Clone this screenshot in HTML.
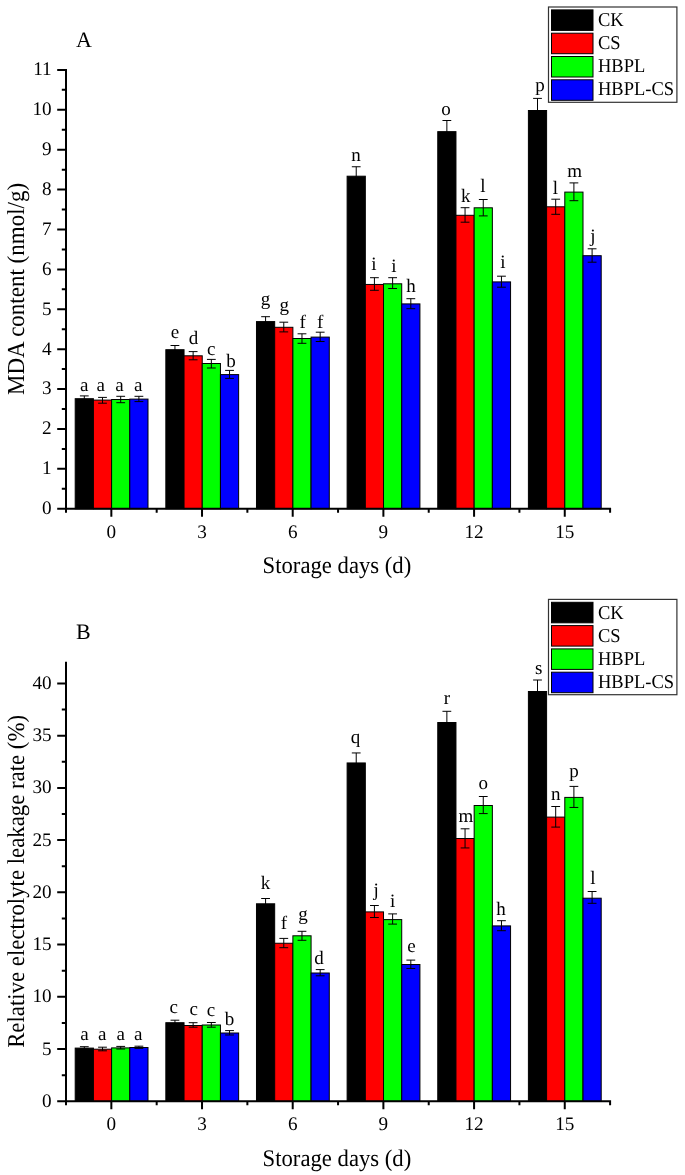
<!DOCTYPE html>
<html><head><meta charset="utf-8"><style>
html,body{margin:0;padding:0;background:#fff;}
svg{display:block;will-change:transform;}
text{font-family:"Liberation Serif", serif;fill:#000;text-rendering:geometricPrecision;}
</style></head><body>
<svg width="685" height="1175" viewBox="0 0 685 1175">
<rect width="685" height="1175" fill="#fff"/>
<rect x="75.20" y="398.70" width="18.20" height="110.05" fill="#000000" stroke="#000" stroke-width="1"/>
<rect x="93.40" y="400.10" width="18.20" height="108.65" fill="#ff0000" stroke="#000" stroke-width="1"/>
<rect x="111.60" y="399.50" width="18.20" height="109.25" fill="#00ff00" stroke="#000" stroke-width="1"/>
<rect x="129.80" y="399.10" width="18.20" height="109.65" fill="#0000ff" stroke="#000" stroke-width="1"/>
<rect x="165.84" y="349.70" width="18.20" height="159.05" fill="#000000" stroke="#000" stroke-width="1"/>
<rect x="184.04" y="355.80" width="18.20" height="152.95" fill="#ff0000" stroke="#000" stroke-width="1"/>
<rect x="202.24" y="363.50" width="18.20" height="145.25" fill="#00ff00" stroke="#000" stroke-width="1"/>
<rect x="220.44" y="374.60" width="18.20" height="134.15" fill="#0000ff" stroke="#000" stroke-width="1"/>
<rect x="256.48" y="321.60" width="18.20" height="187.15" fill="#000000" stroke="#000" stroke-width="1"/>
<rect x="274.68" y="327.30" width="18.20" height="181.45" fill="#ff0000" stroke="#000" stroke-width="1"/>
<rect x="292.88" y="338.50" width="18.20" height="170.25" fill="#00ff00" stroke="#000" stroke-width="1"/>
<rect x="311.08" y="337.10" width="18.20" height="171.65" fill="#0000ff" stroke="#000" stroke-width="1"/>
<rect x="347.12" y="176.20" width="18.20" height="332.55" fill="#000000" stroke="#000" stroke-width="1"/>
<rect x="365.32" y="284.45" width="18.20" height="224.30" fill="#ff0000" stroke="#000" stroke-width="1"/>
<rect x="383.52" y="283.80" width="18.20" height="224.95" fill="#00ff00" stroke="#000" stroke-width="1"/>
<rect x="401.72" y="303.90" width="18.20" height="204.85" fill="#0000ff" stroke="#000" stroke-width="1"/>
<rect x="437.76" y="131.65" width="18.20" height="377.10" fill="#000000" stroke="#000" stroke-width="1"/>
<rect x="455.96" y="215.30" width="18.20" height="293.45" fill="#ff0000" stroke="#000" stroke-width="1"/>
<rect x="474.16" y="207.80" width="18.20" height="300.95" fill="#00ff00" stroke="#000" stroke-width="1"/>
<rect x="492.36" y="281.90" width="18.20" height="226.85" fill="#0000ff" stroke="#000" stroke-width="1"/>
<rect x="528.40" y="110.50" width="18.20" height="398.25" fill="#000000" stroke="#000" stroke-width="1"/>
<rect x="546.60" y="206.80" width="18.20" height="301.95" fill="#ff0000" stroke="#000" stroke-width="1"/>
<rect x="564.80" y="192.10" width="18.20" height="316.65" fill="#00ff00" stroke="#000" stroke-width="1"/>
<rect x="583.00" y="255.70" width="18.20" height="253.05" fill="#0000ff" stroke="#000" stroke-width="1"/>
<path d="M84.30 395.90V401.10M79.90 395.90H88.70M79.90 401.10H88.70" stroke="#000" stroke-width="1" fill="none"/>
<text x="84.15" y="390.50" text-anchor="middle" font-size="19">a</text>
<path d="M102.50 397.40V403.20M98.10 397.40H106.90M98.10 403.20H106.90" stroke="#000" stroke-width="1" fill="none"/>
<text x="100.65" y="390.50" text-anchor="middle" font-size="19">a</text>
<path d="M120.70 396.30V402.70M116.30 396.30H125.10M116.30 402.70H125.10" stroke="#000" stroke-width="1" fill="none"/>
<text x="119.35" y="390.50" text-anchor="middle" font-size="19">a</text>
<path d="M138.90 396.30V401.60M134.50 396.30H143.30M134.50 401.60H143.30" stroke="#000" stroke-width="1" fill="none"/>
<text x="138.25" y="390.50" text-anchor="middle" font-size="19">a</text>
<path d="M174.94 345.50V353.50M170.54 345.50H179.34M170.54 353.50H179.34" stroke="#000" stroke-width="1" fill="none"/>
<text x="175.04" y="338.40" text-anchor="middle" font-size="19">e</text>
<path d="M193.14 351.60V359.80M188.74 351.60H197.54M188.74 359.80H197.54" stroke="#000" stroke-width="1" fill="none"/>
<text x="193.52" y="343.80" text-anchor="middle" font-size="19">d</text>
<path d="M211.34 359.40V368.00M206.94 359.40H215.74M206.94 368.00H215.74" stroke="#000" stroke-width="1" fill="none"/>
<text x="211.24" y="354.50" text-anchor="middle" font-size="19">c</text>
<path d="M229.54 370.40V378.40M225.14 370.40H233.94M225.14 378.40H233.94" stroke="#000" stroke-width="1" fill="none"/>
<text x="231.08" y="366.60" text-anchor="middle" font-size="19">b</text>
<path d="M265.58 316.70V326.10M261.18 316.70H269.98M261.18 326.10H269.98" stroke="#000" stroke-width="1" fill="none"/>
<text x="265.51" y="305.20" text-anchor="middle" font-size="19">g</text>
<path d="M283.78 322.20V331.90M279.38 322.20H288.18M279.38 331.90H288.18" stroke="#000" stroke-width="1" fill="none"/>
<text x="284.31" y="310.90" text-anchor="middle" font-size="19">g</text>
<path d="M301.98 333.80V343.30M297.58 333.80H306.38M297.58 343.30H306.38" stroke="#000" stroke-width="1" fill="none"/>
<text x="302.64" y="327.90" text-anchor="middle" font-size="19">f</text>
<path d="M320.18 332.20V341.50M315.78 332.20H324.58M315.78 341.50H324.58" stroke="#000" stroke-width="1" fill="none"/>
<text x="320.04" y="327.80" text-anchor="middle" font-size="19">f</text>
<path d="M356.22 166.75V185.25M351.82 166.75H360.62M351.82 185.25H360.62" stroke="#000" stroke-width="1" fill="none"/>
<text x="356.00" y="160.80" text-anchor="middle" font-size="19">n</text>
<path d="M374.42 277.70V290.30M370.02 277.70H378.82M370.02 290.30H378.82" stroke="#000" stroke-width="1" fill="none"/>
<text x="373.98" y="269.80" text-anchor="middle" font-size="19">i</text>
<path d="M392.62 277.70V288.50M388.22 277.70H397.02M388.22 288.50H397.02" stroke="#000" stroke-width="1" fill="none"/>
<text x="393.93" y="271.70" text-anchor="middle" font-size="19">i</text>
<path d="M410.82 298.70V308.70M406.42 298.70H415.22M406.42 308.70H415.22" stroke="#000" stroke-width="1" fill="none"/>
<text x="410.90" y="291.50" text-anchor="middle" font-size="19">h</text>
<path d="M446.86 120.50V142.40M442.46 120.50H451.26M442.46 142.40H451.26" stroke="#000" stroke-width="1" fill="none"/>
<text x="446.00" y="115.30" text-anchor="middle" font-size="19">o</text>
<path d="M465.06 207.70V222.20M460.66 207.70H469.46M460.66 222.20H469.46" stroke="#000" stroke-width="1" fill="none"/>
<text x="465.81" y="202.30" text-anchor="middle" font-size="19">k</text>
<path d="M483.26 199.50V215.90M478.86 199.50H487.66M478.86 215.90H487.66" stroke="#000" stroke-width="1" fill="none"/>
<text x="482.90" y="191.80" text-anchor="middle" font-size="19">l</text>
<path d="M501.46 276.20V287.20M497.06 276.20H505.86M497.06 287.20H505.86" stroke="#000" stroke-width="1" fill="none"/>
<text x="502.83" y="267.60" text-anchor="middle" font-size="19">i</text>
<path d="M537.50 98.40V122.20M533.10 98.40H541.90M533.10 122.20H541.90" stroke="#000" stroke-width="1" fill="none"/>
<text x="540.09" y="90.50" text-anchor="middle" font-size="19">p</text>
<path d="M555.70 199.20V214.30M551.30 199.20H560.10M551.30 214.30H560.10" stroke="#000" stroke-width="1" fill="none"/>
<text x="555.30" y="194.40" text-anchor="middle" font-size="19">l</text>
<path d="M573.90 182.90V200.70M569.50 182.90H578.30M569.50 200.70H578.30" stroke="#000" stroke-width="1" fill="none"/>
<text x="574.55" y="176.80" text-anchor="middle" font-size="19">m</text>
<path d="M592.10 248.80V262.20M587.70 248.80H596.50M587.70 262.20H596.50" stroke="#000" stroke-width="1" fill="none"/>
<text x="592.82" y="241.60" text-anchor="middle" font-size="19">j</text>
<path d="M66 68.90V512.75M57.2 508.75H611.10M57.2 508.75H66M57.2 468.86H66M57.2 428.96H66M57.2 389.06H66M57.2 349.17H66M57.2 309.27H66M57.2 269.38H66M57.2 229.48H66M57.2 189.59H66M57.2 149.69H66M57.2 109.80H66M57.2 69.90H67M61.8 488.80H66M61.8 448.91H66M61.8 409.01H66M61.8 369.12H66M61.8 329.22H66M61.8 289.33H66M61.8 249.43H66M61.8 209.54H66M61.8 169.64H66M61.8 129.75H66M61.8 89.85H66M111.34 508.75V516.75M202.03 508.75V516.75M292.71 508.75V516.75M383.39 508.75V516.75M474.08 508.75V516.75M564.76 508.75V516.75M156.68 508.75V512.75M247.37 508.75V512.75M338.05 508.75V512.75M428.73 508.75V512.75M519.42 508.75V512.75M610.10 508.75V512.75" stroke="#000" stroke-width="2" fill="none"/>
<text x="51.7" y="514.15" text-anchor="end" font-size="19.2">0</text>
<text x="51.7" y="474.25" text-anchor="end" font-size="19.2">1</text>
<text x="51.7" y="434.36" text-anchor="end" font-size="19.2">2</text>
<text x="51.7" y="394.46" text-anchor="end" font-size="19.2">3</text>
<text x="51.7" y="354.57" text-anchor="end" font-size="19.2">4</text>
<text x="51.7" y="314.67" text-anchor="end" font-size="19.2">5</text>
<text x="51.7" y="274.78" text-anchor="end" font-size="19.2">6</text>
<text x="51.7" y="234.88" text-anchor="end" font-size="19.2">7</text>
<text x="51.7" y="194.99" text-anchor="end" font-size="19.2">8</text>
<text x="51.7" y="155.09" text-anchor="end" font-size="19.2">9</text>
<text x="51.7" y="115.20" text-anchor="end" font-size="19.2">10</text>
<text x="51.7" y="75.30" text-anchor="end" font-size="19.2">11</text>
<text x="111.34" y="537.75" text-anchor="middle" font-size="19.2">0</text>
<text x="202.03" y="537.75" text-anchor="middle" font-size="19.2">3</text>
<text x="292.71" y="537.75" text-anchor="middle" font-size="19.2">6</text>
<text x="383.39" y="537.75" text-anchor="middle" font-size="19.2">9</text>
<text x="474.08" y="537.75" text-anchor="middle" font-size="19.2">12</text>
<text x="564.76" y="537.75" text-anchor="middle" font-size="19.2">15</text>
<text transform="translate(336.9 573.05) scale(1 1.05)" text-anchor="middle" font-size="22.7">Storage days (d)</text>
<text transform="translate(24 288.95) rotate(-90) scale(1 1.06)" text-anchor="middle" font-size="23">MDA content (nmol/g)</text>
<text x="76" y="47.00" font-size="22">A</text>
<rect x="548.5" y="7.00" width="128.4" height="95.3" fill="#fff" stroke="#333" stroke-width="1.2"/>
<rect x="551.5" y="9.90" width="41.5" height="20.5" fill="#000000" stroke="#000" stroke-width="1"/>
<text transform="translate(598 26.10) scale(1 1.055)" font-size="18.5">CK</text>
<rect x="551.5" y="33.20" width="41.5" height="20.5" fill="#ff0000" stroke="#000" stroke-width="1"/>
<text transform="translate(598 49.23) scale(1 1.055)" font-size="18.5">CS</text>
<rect x="551.5" y="56.50" width="41.5" height="20.5" fill="#00ff00" stroke="#000" stroke-width="1"/>
<text transform="translate(598 72.36) scale(1 1.055)" font-size="18.5">HBPL</text>
<rect x="551.5" y="79.80" width="41.5" height="20.5" fill="#0000ff" stroke="#000" stroke-width="1"/>
<text transform="translate(598 95.49) scale(1 1.055)" font-size="18.5">HBPL-CS</text>
<rect x="75.20" y="1048.10" width="18.20" height="53.25" fill="#000000" stroke="#000" stroke-width="1"/>
<rect x="93.40" y="1049.20" width="18.20" height="52.15" fill="#ff0000" stroke="#000" stroke-width="1"/>
<rect x="111.60" y="1047.90" width="18.20" height="53.45" fill="#00ff00" stroke="#000" stroke-width="1"/>
<rect x="129.80" y="1047.50" width="18.20" height="53.85" fill="#0000ff" stroke="#000" stroke-width="1"/>
<rect x="165.84" y="1022.70" width="18.20" height="78.65" fill="#000000" stroke="#000" stroke-width="1"/>
<rect x="184.04" y="1025.50" width="18.20" height="75.85" fill="#ff0000" stroke="#000" stroke-width="1"/>
<rect x="202.24" y="1025.00" width="18.20" height="76.35" fill="#00ff00" stroke="#000" stroke-width="1"/>
<rect x="220.44" y="1033.00" width="18.20" height="68.35" fill="#0000ff" stroke="#000" stroke-width="1"/>
<rect x="256.48" y="903.80" width="18.20" height="197.55" fill="#000000" stroke="#000" stroke-width="1"/>
<rect x="274.68" y="943.25" width="18.20" height="158.10" fill="#ff0000" stroke="#000" stroke-width="1"/>
<rect x="292.88" y="935.80" width="18.20" height="165.55" fill="#00ff00" stroke="#000" stroke-width="1"/>
<rect x="311.08" y="973.00" width="18.20" height="128.35" fill="#0000ff" stroke="#000" stroke-width="1"/>
<rect x="347.12" y="762.95" width="18.20" height="338.40" fill="#000000" stroke="#000" stroke-width="1"/>
<rect x="365.32" y="911.90" width="18.20" height="189.45" fill="#ff0000" stroke="#000" stroke-width="1"/>
<rect x="383.52" y="919.60" width="18.20" height="181.75" fill="#00ff00" stroke="#000" stroke-width="1"/>
<rect x="401.72" y="964.50" width="18.20" height="136.85" fill="#0000ff" stroke="#000" stroke-width="1"/>
<rect x="437.76" y="722.50" width="18.20" height="378.85" fill="#000000" stroke="#000" stroke-width="1"/>
<rect x="455.96" y="838.50" width="18.20" height="262.85" fill="#ff0000" stroke="#000" stroke-width="1"/>
<rect x="474.16" y="805.50" width="18.20" height="295.85" fill="#00ff00" stroke="#000" stroke-width="1"/>
<rect x="492.36" y="925.90" width="18.20" height="175.45" fill="#0000ff" stroke="#000" stroke-width="1"/>
<rect x="528.40" y="691.50" width="18.20" height="409.85" fill="#000000" stroke="#000" stroke-width="1"/>
<rect x="546.60" y="817.10" width="18.20" height="284.25" fill="#ff0000" stroke="#000" stroke-width="1"/>
<rect x="564.80" y="797.40" width="18.20" height="303.95" fill="#00ff00" stroke="#000" stroke-width="1"/>
<rect x="583.00" y="898.20" width="18.20" height="203.15" fill="#0000ff" stroke="#000" stroke-width="1"/>
<path d="M84.30 1046.70V1049.10M79.90 1046.70H88.70M79.90 1049.10H88.70" stroke="#000" stroke-width="1" fill="none"/>
<text x="84.40" y="1039.90" text-anchor="middle" font-size="19">a</text>
<path d="M102.50 1047.20V1050.80M98.10 1047.20H106.90M98.10 1050.80H106.90" stroke="#000" stroke-width="1" fill="none"/>
<text x="102.20" y="1039.90" text-anchor="middle" font-size="19">a</text>
<path d="M120.70 1046.40V1049.00M116.30 1046.40H125.10M116.30 1049.00H125.10" stroke="#000" stroke-width="1" fill="none"/>
<text x="120.70" y="1039.80" text-anchor="middle" font-size="19">a</text>
<path d="M138.90 1046.20V1048.40M134.50 1046.20H143.30M134.50 1048.40H143.30" stroke="#000" stroke-width="1" fill="none"/>
<text x="138.25" y="1039.90" text-anchor="middle" font-size="19">a</text>
<path d="M174.94 1020.20V1024.80M170.54 1020.20H179.34M170.54 1024.80H179.34" stroke="#000" stroke-width="1" fill="none"/>
<text x="173.64" y="1013.10" text-anchor="middle" font-size="19">c</text>
<path d="M193.14 1022.70V1027.20M188.74 1022.70H197.54M188.74 1027.20H197.54" stroke="#000" stroke-width="1" fill="none"/>
<text x="193.64" y="1014.50" text-anchor="middle" font-size="19">c</text>
<path d="M211.34 1022.50V1027.20M206.94 1022.50H215.74M206.94 1027.20H215.74" stroke="#000" stroke-width="1" fill="none"/>
<text x="211.09" y="1015.50" text-anchor="middle" font-size="19">c</text>
<path d="M229.54 1030.60V1035.00M225.14 1030.60H233.94M225.14 1035.00H233.94" stroke="#000" stroke-width="1" fill="none"/>
<text x="229.53" y="1025.20" text-anchor="middle" font-size="19">b</text>
<path d="M265.58 898.50V908.70M261.18 898.50H269.98M261.18 908.70H269.98" stroke="#000" stroke-width="1" fill="none"/>
<text x="265.51" y="889.20" text-anchor="middle" font-size="19">k</text>
<path d="M283.78 938.40V947.70M279.38 938.40H288.18M279.38 947.70H288.18" stroke="#000" stroke-width="1" fill="none"/>
<text x="283.84" y="928.50" text-anchor="middle" font-size="19">f</text>
<path d="M301.98 931.30V940.30M297.58 931.30H306.38M297.58 940.30H306.38" stroke="#000" stroke-width="1" fill="none"/>
<text x="302.91" y="920.10" text-anchor="middle" font-size="19">g</text>
<path d="M320.18 969.60V975.80M315.78 969.60H324.58M315.78 975.80H324.58" stroke="#000" stroke-width="1" fill="none"/>
<text x="319.01" y="963.70" text-anchor="middle" font-size="19">d</text>
<path d="M356.22 752.95V772.55M351.82 752.95H360.62M351.82 772.55H360.62" stroke="#000" stroke-width="1" fill="none"/>
<text x="355.41" y="742.70" text-anchor="middle" font-size="19">q</text>
<path d="M374.42 905.50V917.50M370.02 905.50H378.82M370.02 917.50H378.82" stroke="#000" stroke-width="1" fill="none"/>
<text x="376.22" y="895.80" text-anchor="middle" font-size="19">j</text>
<path d="M392.62 913.90V924.10M388.22 913.90H397.02M388.22 924.10H397.02" stroke="#000" stroke-width="1" fill="none"/>
<text x="392.68" y="907.30" text-anchor="middle" font-size="19">i</text>
<path d="M410.82 960.10V968.50M406.42 960.10H415.22M406.42 968.50H415.22" stroke="#000" stroke-width="1" fill="none"/>
<text x="411.44" y="952.10" text-anchor="middle" font-size="19">e</text>
<path d="M446.86 711.30V733.30M442.46 711.30H451.26M442.46 733.30H451.26" stroke="#000" stroke-width="1" fill="none"/>
<text x="447.03" y="703.60" text-anchor="middle" font-size="19">r</text>
<path d="M465.06 828.80V847.95M460.66 828.80H469.46M460.66 847.95H469.46" stroke="#000" stroke-width="1" fill="none"/>
<text x="465.80" y="821.80" text-anchor="middle" font-size="19">m</text>
<path d="M483.26 796.50V813.60M478.86 796.50H487.66M478.86 813.60H487.66" stroke="#000" stroke-width="1" fill="none"/>
<text x="483.30" y="788.60" text-anchor="middle" font-size="19">o</text>
<path d="M501.46 920.70V930.70M497.06 920.70H505.86M497.06 930.70H505.86" stroke="#000" stroke-width="1" fill="none"/>
<text x="501.00" y="915.40" text-anchor="middle" font-size="19">h</text>
<path d="M537.50 680.00V702.60M533.10 680.00H541.90M533.10 702.60H541.90" stroke="#000" stroke-width="1" fill="none"/>
<text x="538.70" y="674.00" text-anchor="middle" font-size="19">s</text>
<path d="M555.70 806.50V827.10M551.30 806.50H560.10M551.30 827.10H560.10" stroke="#000" stroke-width="1" fill="none"/>
<text x="555.85" y="800.20" text-anchor="middle" font-size="19">n</text>
<path d="M573.90 786.40V807.45M569.50 786.40H578.30M569.50 807.45H578.30" stroke="#000" stroke-width="1" fill="none"/>
<text x="574.09" y="776.50" text-anchor="middle" font-size="19">p</text>
<path d="M592.10 891.50V903.30M587.70 891.50H596.50M587.70 903.30H596.50" stroke="#000" stroke-width="1" fill="none"/>
<text x="592.90" y="883.60" text-anchor="middle" font-size="19">l</text>
<path d="M66 661.70V1105.35M57.2 1101.35H611.10M57.2 1101.35H66M57.2 1049.11H66M57.2 996.86H66M57.2 944.61H66M57.2 892.37H66M57.2 840.12H66M57.2 787.88H66M57.2 735.63H66M57.2 683.39H66M61.8 1075.23H66M61.8 1022.98H66M61.8 970.74H66M61.8 918.49H66M61.8 866.25H66M61.8 814.00H66M61.8 761.76H66M61.8 709.51H66M111.34 1101.35V1109.35M202.03 1101.35V1109.35M292.71 1101.35V1109.35M383.39 1101.35V1109.35M474.08 1101.35V1109.35M564.76 1101.35V1109.35M156.68 1101.35V1105.35M247.37 1101.35V1105.35M338.05 1101.35V1105.35M428.73 1101.35V1105.35M519.42 1101.35V1105.35M610.10 1101.35V1105.35" stroke="#000" stroke-width="2" fill="none"/>
<text x="51.7" y="1106.75" text-anchor="end" font-size="19.2">0</text>
<text x="51.7" y="1054.51" text-anchor="end" font-size="19.2">5</text>
<text x="51.7" y="1002.26" text-anchor="end" font-size="19.2">10</text>
<text x="51.7" y="950.01" text-anchor="end" font-size="19.2">15</text>
<text x="51.7" y="897.77" text-anchor="end" font-size="19.2">20</text>
<text x="51.7" y="845.52" text-anchor="end" font-size="19.2">25</text>
<text x="51.7" y="793.28" text-anchor="end" font-size="19.2">30</text>
<text x="51.7" y="741.03" text-anchor="end" font-size="19.2">35</text>
<text x="51.7" y="688.79" text-anchor="end" font-size="19.2">40</text>
<text x="111.34" y="1130.35" text-anchor="middle" font-size="19.2">0</text>
<text x="202.03" y="1130.35" text-anchor="middle" font-size="19.2">3</text>
<text x="292.71" y="1130.35" text-anchor="middle" font-size="19.2">6</text>
<text x="383.39" y="1130.35" text-anchor="middle" font-size="19.2">9</text>
<text x="474.08" y="1130.35" text-anchor="middle" font-size="19.2">12</text>
<text x="564.76" y="1130.35" text-anchor="middle" font-size="19.2">15</text>
<text transform="translate(336.9 1165.65) scale(1 1.05)" text-anchor="middle" font-size="22.7">Storage days (d)</text>
<text transform="translate(24 881.40) rotate(-90) scale(1 1.06)" text-anchor="middle" font-size="22.8">Relative electrolyte leakage rate (%)</text>
<text x="76" y="639.40" font-size="22">B</text>
<rect x="548.5" y="599.40" width="128.4" height="95.3" fill="#fff" stroke="#333" stroke-width="1.2"/>
<rect x="551.5" y="602.30" width="41.5" height="20.5" fill="#000000" stroke="#000" stroke-width="1"/>
<text transform="translate(598 618.50) scale(1 1.055)" font-size="18.5">CK</text>
<rect x="551.5" y="625.60" width="41.5" height="20.5" fill="#ff0000" stroke="#000" stroke-width="1"/>
<text transform="translate(598 641.63) scale(1 1.055)" font-size="18.5">CS</text>
<rect x="551.5" y="648.90" width="41.5" height="20.5" fill="#00ff00" stroke="#000" stroke-width="1"/>
<text transform="translate(598 664.76) scale(1 1.055)" font-size="18.5">HBPL</text>
<rect x="551.5" y="672.20" width="41.5" height="20.5" fill="#0000ff" stroke="#000" stroke-width="1"/>
<text transform="translate(598 687.89) scale(1 1.055)" font-size="18.5">HBPL-CS</text>
</svg>
</body></html>
